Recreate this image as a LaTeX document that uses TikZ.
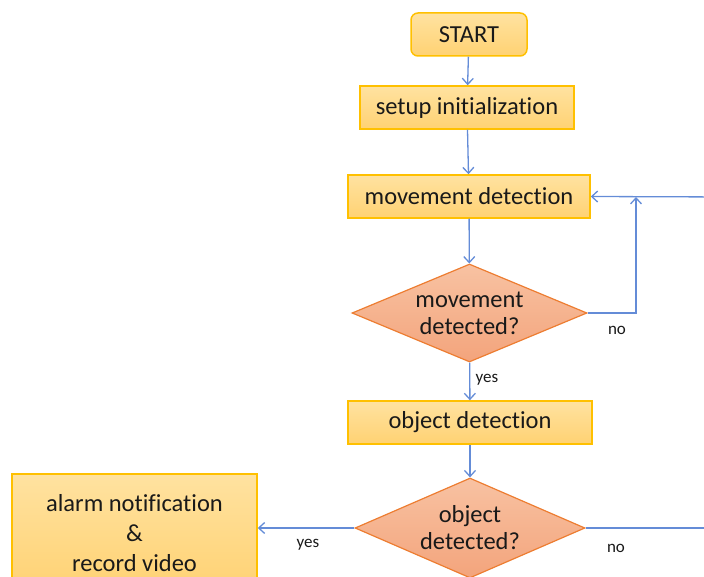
\documentclass[tikz,border=0pt]{standalone}
\usepackage{fontspec}
\setmainfont[Ligatures={NoCommon,NoRare}]{Carlito}
\usetikzlibrary{shapes.geometric,arrows.meta}
\definecolor{boxtop}{RGB}{255,226,160}
\definecolor{boxbot}{RGB}{255,210,115}
\definecolor{boxline}{RGB}{255,192,0}
\definecolor{dtop}{RGB}{248,194,162}
\definecolor{dbot}{RGB}{243,164,124}
\definecolor{dline}{RGB}{237,125,49}
\definecolor{arr}{RGB}{100,140,215}
\tikzset{
  stepbox/.style={draw=boxline, line width=1.5pt, top color=boxtop, bottom color=boxbot,
    inner sep=0pt, font=\fontsize{24.5}{27}\selectfont, text=black!90, align=center},
  decbox/.style={diamond, draw=dline, line width=1.2pt, top color=dtop, bottom color=dbot,
    inner sep=0pt, font=\fontsize{24.5}{27}\selectfont, text=black!90, align=center},
  conn/.style={draw=arr, line width=1.3pt, -{Straight Barb[length=6pt,width=11pt,line width=1.3pt]}},
  plain/.style={draw=arr, line width=1.3pt},
  lbl/.style={font=\fontsize{17}{18}\selectfont, text=black!90, inner sep=0pt}
}
\begin{document}
\begin{tikzpicture}[x=1pt,y=-1pt]
\useasboundingbox (0,0) rectangle (704,577);
\clip (0,0) rectangle (704,577);
\node[stepbox, rounded corners=7pt, minimum width=116pt, minimum height=43pt] (start) at (469,34.5) {START};
\node[stepbox, minimum width=214pt, minimum height=43pt] (setup) at (467,107.5) {setup initialization};
\node[stepbox, minimum width=242pt, minimum height=43pt] (movdet) at (469,196.5) {movement detection};
\node[decbox, minimum width=235pt, minimum height=98pt, aspect=2.4] (movq) at (469.5,313) {movement\\detected?};
\node[stepbox, minimum width=244pt, minimum height=43pt] (objdet) at (470,422.5) {object detection};
\node[decbox, minimum width=230pt, minimum height=100pt, aspect=2.3] (objq) at (470,528) {object\\detected?};
\node[stepbox, minimum width=245pt, minimum height=118pt, font=\fontsize{24.5}{30}\selectfont] (alarm) at (134.5,533) {alarm notification\\\&\\record video};
\coordinate (j) at (636,197);
\coordinate (r1) at (730,528);
\coordinate (r2) at (730,197);
\node[lbl] (no1) at (617,330) {no};
\node[lbl] (yes1) at (487,380) {yes};
\node[lbl] (yes2) at (308,545) {yes};
\node[lbl] (no2) at (616,548) {no};
\draw[conn] (start) -- (setup);
\draw[conn] (setup) -- (movdet);
\draw[conn] (movdet) -- (movq);
\draw[conn] (movq) -- (objdet);
\draw[conn] (objdet) -- (objq);
\draw[conn] (objq.west) -- (alarm.east |- objq.west);
\draw[conn] (movq.east) -| (j);
\draw[plain] (objq.east) -- (r1) -- (r2);
\draw[conn] (r2) -- (movdet.east);
\end{tikzpicture}
\end{document}
